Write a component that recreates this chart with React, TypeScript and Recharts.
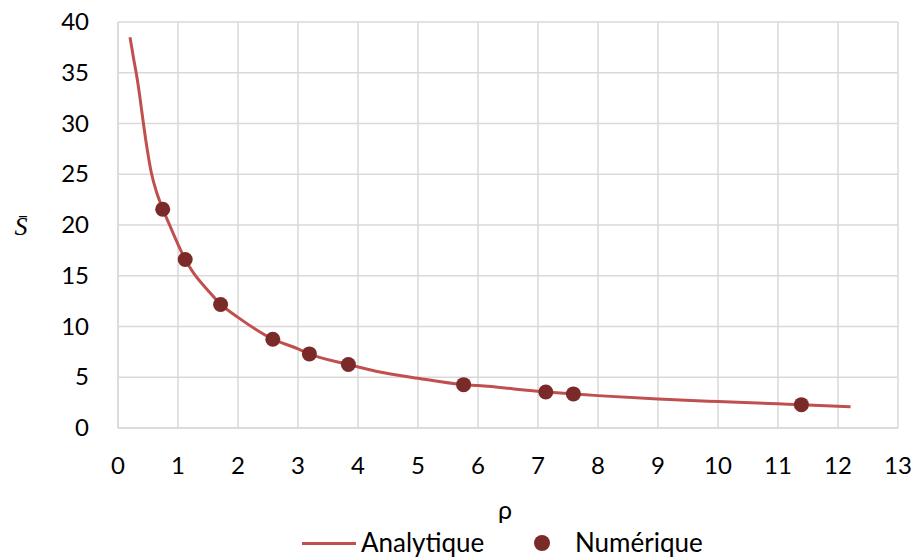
import React from "react";
import { ComposedChart, Line, Scatter, XAxis, YAxis, CartesianGrid, Legend } from "recharts";

const curveRho = [0.2, 0.26, 0.317, 0.36, 0.41, 0.48, 0.55, 0.65, 0.745, 0.867, 1, 1.12, 1.255, 1.5, 1.71, 2, 2.58, 3, 3.19, 3.84, 4.3, 5, 5.76, 6, 7.13, 7.59, 8, 9, 10, 11, 11.39, 12.21];
const curveS = [38.5, 36.4, 34.5, 32.8, 30.6, 27.7, 25.3, 23.1, 21.6, 19.9, 18.1, 16.6, 15.3, 13.55, 12.2, 10.9, 8.75, 7.8, 7.3, 6.25, 5.6, 4.9, 4.27, 4.18, 3.55, 3.36, 3.19, 2.85, 2.6, 2.38, 2.3, 2.1];
const numRho = [0.745, 1.12, 1.71, 2.58, 3.19, 3.84, 5.76, 7.13, 7.59, 11.39];
const numS = [21.55, 16.6, 12.17, 8.75, 7.3, 6.25, 4.27, 3.55, 3.36, 2.3];
const xTicks = [0, 1, 2, 3, 4, 5, 6, 7, 8, 9, 10, 11, 12, 13];
const yTicks = [0, 5, 10, 15, 20, 25, 30, 35, 40];

const analytique = curveRho.map((x, i) => ({ x, y: curveS[i] }));
const numerique = numRho.map((x, i) => ({ x, y: numS[i] }));

const FONT = "Lato, 'Open Sans', sans-serif";
const LINE = "#c0504d";
const DOT = "#7b2a2a";

const XTick = (props: any) => {
  const { x, y, payload } = props;
  return (
    <text x={x} y={y + 46} textAnchor="middle" fontFamily={FONT} fontSize={24} fill="#000">
      {payload.value}
    </text>
  );
};

const YTick = (props: any) => {
  const { y, payload } = props;
  return (
    <text x={89} y={y + 8} textAnchor="end" fontFamily={FONT} fontSize={24} fill="#000">
      {payload.value}
    </text>
  );
};

const LegendContent = () => (
  <div style={{ position: "relative", height: 36, width: 914, fontFamily: FONT, fontSize: 26, color: "#000" }}>
    <div style={{ position: "absolute", left: 302, top: 19, width: 54, height: 3, background: LINE }} />
    <div style={{ position: "absolute", left: 361, top: 3, lineHeight: "32px", whiteSpace: "nowrap" }}>Analytique</div>
    <div style={{ position: "absolute", left: 534, top: 12, width: 16, height: 16, borderRadius: 8, background: DOT }} />
    <div style={{ position: "absolute", left: 575, top: 3, lineHeight: "32px", whiteSpace: "nowrap" }}>Numérique</div>
  </div>
);

export default function App() {
  return (
    <>
      <style>{"body{margin:0}"}</style>
      <ComposedChart width={914} height={559} margin={{ top: 22, right: 16, left: 0, bottom: 0 }}>
        <CartesianGrid stroke="#d9d9d9" strokeWidth={1.5} />
        <XAxis
          type="number"
          dataKey="x"
          domain={[0, 13]}
          ticks={xTicks}
          interval={0}
          tickLine={false}
          tickSize={0}
          tickMargin={0}
          height={95}
          stroke="#d9d9d9"
          strokeWidth={1.5}
          tick={<XTick />}
          label={{
            content: (p: any) => {
              const vb = p.viewBox;
              return (
                <text x={vb.x + vb.width / 2 - 3} y={519} textAnchor="middle" fontFamily={FONT} fontSize={25} fill="#000">
                  ρ
                </text>
              );
            },
          }}
        />
        <YAxis
          type="number"
          dataKey="y"
          domain={[0, 40]}
          ticks={yTicks}
          interval={0}
          tickLine={false}
          tickSize={0}
          width={118}
          stroke="#d9d9d9"
          strokeWidth={1.5}
          tick={<YTick />}
          label={{
            content: () => (
              <text x={21} y={235} textAnchor="middle" fontFamily="'Liberation Serif', serif" fontStyle="italic" fontSize={26} fill="#000">
                S̄
              </text>
            ),
          }}
        />
        <Legend verticalAlign="bottom" content={<LegendContent />} />
        <Line
          data={analytique}
          dataKey="y"
          type="monotone"
          stroke={LINE}
          strokeWidth={3}
          dot={false}
          activeDot={false}
          isAnimationActive={false}
          name="Analytique"
        />
        <Scatter
          data={numerique}
          dataKey="y"
          fill={DOT}
          isAnimationActive={false}
          name="Numérique"
          shape={(p: any) => <circle cx={p.cx} cy={p.cy} r={7.5} fill={DOT} />}
        />
      </ComposedChart>
    </>
  );
}
